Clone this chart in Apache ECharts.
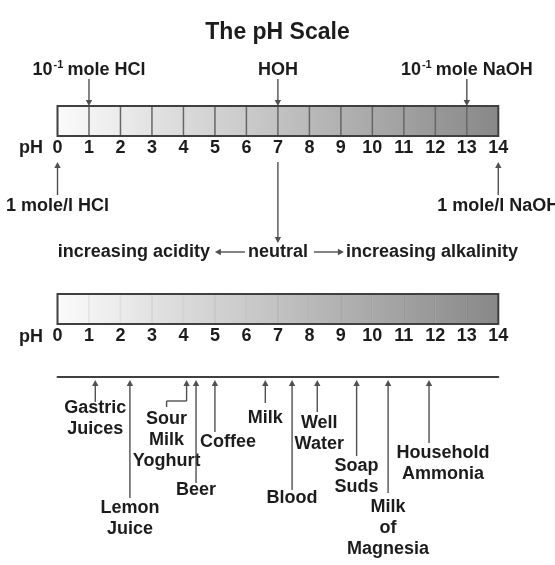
<!DOCTYPE html>
<html>
<head>
<meta charset="utf-8">
<script src="https://cdn.jsdelivr.net/npm/echarts@6/dist/echarts.min.js"></script>
<style>
html, body { margin: 0; padding: 0; background: #fff; }
#main { width: 555px; height: 565px; }
</style>
</head>
<body>
<div id="main"></div>
<script>
// pH scale ticks
var phTicks = [0, 1, 2, 3, 4, 5, 6, 7, 8, 9, 10, 11, 12, 13, 14];

// marks above the first scale
var topNames = ['10{s|-1}mole HCl', 'HOH', '10{s|-1}mole NaOH'];
var topPH = [1, 7, 13];

// marks below the first scale
var endNames = ['1 mole/l HCl', '1 mole/l NaOH'];
var endPH = [0, 14];

var neutralPH = 7;
var trendNames = ['increasing acidity', 'neutral', 'increasing alkalinity'];

// everyday substances on the second scale
var productNames = ['Gastric\nJuices', 'Lemon\nJuice', 'Sour\nMilk\nYoghurt', 'Beer', 'Coffee', 'Milk',
    'Blood', 'Well\nWater', 'Soap\nSuds', 'Milk\nof\nMagnesia', 'Household\nAmmonia'];
var productPH = [1.2, 2.3, 4.1, 4.4, 5.0, 6.6, 7.45, 8.25, 9.5, 10.5, 11.8];

// label layout (px below the base line), not data
var lineEnd = [25, 121, 24, 106, 55, 26, 113, 35, 79, 116, 66];
var textDy = [31, 131, 42, 113, 65, 41, 121, 46, 89, 130, 76];
var textDx = [0, 0, -20, 0, 13, 0, 0, 2, 0, 0, 14];
var elbow = [0, 0, -20, 0, 0, 0, 0, 0, 0, 0, 0];

var INK = '#1c1c1c';
var LINE = '#505050';
var FAMILY = '"Liberation Sans", Arial, Helvetica, sans-serif';
var FONT = 'bold 18px ' + FAMILY;
var phMax = phTicks[phTicks.length - 1];

function shade(t) {
    var c = Math.round(251 - t * (251 - 136));
    return 'rgb(' + c + ',' + c + ',' + c + ')';
}

function head(x, y, dir) {
    var s = 6, w = 3.2, pts;
    if (dir === 'down') pts = [[x - w, y - s], [x + w, y - s], [x, y]];
    else if (dir === 'up') pts = [[x - w, y + s], [x + w, y + s], [x, y]];
    else if (dir === 'left') pts = [[x + s, y - w], [x + s, y + w], [x, y]];
    else pts = [[x - s, y - w], [x - s, y + w], [x, y]];
    return {type: 'polygon', shape: {points: pts}, style: {fill: LINE}};
}

function seg(x1, y1, x2, y2) {
    return {type: 'line', shape: {x1: x1, y1: y1, x2: x2, y2: y2}, style: {stroke: LINE, lineWidth: 1.4}};
}

function txt(x, y, t, align, vAlign) {
    return {
        type: 'text', x: x, y: y,
        style: {
            text: t, font: FONT, fill: INK, align: align || 'center', verticalAlign: vAlign || 'middle',
            lineHeight: 21,
            rich: {s: {fontSize: 11, fontWeight: 'bold', fontFamily: FAMILY, fill: INK, verticalAlign: 'top', padding: [0, 4, 5, 1]}}
        }
    };
}

function phAxis(g) {
    return {
        gridIndex: g, type: 'value', min: 0, max: phMax, interval: 1,
        axisLine: {show: false, onZero: false},
        axisTick: {show: false},
        splitLine: {show: false},
        axisLabel: {show: true, margin: 3, color: INK, fontSize: 18, fontWeight: 'bold', fontFamily: FAMILY}
    };
}

// the gradient bar, cell by cell
function cellSeries(g, divider) {
    return {
        type: 'custom', xAxisIndex: g, yAxisIndex: g, silent: true, animation: false,
        data: phTicks.slice(0, -1).map(function (v) { return [v, 0]; }),
        renderItem: function (params, api) {
            var v = api.value(0);
            var a = api.coord([v, 1]), b = api.coord([v + 1, 0]);
            var kids = [{
                type: 'rect',
                shape: {x: a[0], y: a[1], width: b[0] - a[0], height: b[1] - a[1]},
                style: {
                    fill: new echarts.graphic.LinearGradient(0, 0, 1, 0, [
                        {offset: 0, color: shade(v / phMax)},
                        {offset: 1, color: shade((v + 1) / phMax)}
                    ])
                }
            }];
            if (v > 0) {
                kids.push({type: 'line', shape: {x1: a[0], y1: a[1], x2: a[0], y2: b[1]},
                    style: {stroke: divider, lineWidth: 1.5}});
            }
            return {type: 'group', children: kids};
        }
    };
}

function frameSeries(g) {
    return {
        type: 'custom', xAxisIndex: g, yAxisIndex: g, silent: true, animation: false, z: 3,
        data: [[0, 0]],
        renderItem: function (params, api) {
            var a = api.coord([0, 1]), b = api.coord([phMax, 0]);
            return {type: 'rect', shape: {x: a[0], y: a[1], width: b[0] - a[0], height: b[1] - a[1]},
                style: {fill: 'none', stroke: '#404040', lineWidth: 2}};
        }
    };
}

var myChart = echarts.init(document.getElementById('main'));
var option = {
    backgroundColor: '#fff',
    animation: false,
    title: {
        text: 'The pH Scale', left: 'center', top: 16,
        textStyle: {fontSize: 23, fontWeight: 'bold', color: INK, fontFamily: FAMILY}
    },
    graphic: [
        {type: 'text', left: 19, top: 139, style: {text: 'pH', font: FONT, fill: INK}},
        {type: 'text', left: 19, top: 328, style: {text: 'pH', font: FONT, fill: INK}}
    ],
    grid: [
        {left: 57.5, right: 56.7, top: 106, height: 30},
        {left: 57.5, right: 56.7, top: 294, height: 30},
        {left: 57.5, right: 56.7, top: 377, height: 180}
    ],
    xAxis: [
        phAxis(0),
        phAxis(1),
        {
            gridIndex: 2, type: 'value', min: 0, max: phMax, position: 'top',
            axisLine: {show: true, onZero: false, lineStyle: {color: '#404040', width: 2}},
            axisTick: {show: false}, axisLabel: {show: false}, splitLine: {show: false}
        }
    ],
    yAxis: [0, 1, 2].map(function (g) {
        return {gridIndex: g, type: 'value', min: 0, max: 1, show: false};
    }),
    series: [
        cellSeries(0, '#666'),
        frameSeries(0),
        cellSeries(1, 'rgba(0,0,0,0.07)'),
        frameSeries(1),
        {   // arrows pointing down into the first scale
            type: 'custom', xAxisIndex: 0, yAxisIndex: 0, silent: true,
            data: topPH.map(function (p, i) { return [p, 1, i]; }),
            renderItem: function (params, api) {
                var a = api.coord([api.value(0), 1]);
                var x = a[0], y = a[1];
                return {type: 'group', children: [
                    seg(x, y - 27, x, y - 5), head(x, y, 'down'),
                    txt(x, y - 36, topNames[api.value(2)])
                ]};
            }
        },
        {   // 1 mole/l arrows below the first scale
            type: 'custom', xAxisIndex: 0, yAxisIndex: 0, silent: true,
            data: endPH.map(function (p, i) { return [p, 0, i]; }),
            renderItem: function (params, api) {
                var a = api.coord([api.value(0), 0]);
                var x = a[0], y = a[1];
                return {type: 'group', children: [
                    head(x, y + 26, 'up'), seg(x, y + 31, x, y + 59),
                    txt(x, y + 70, endNames[api.value(2)])
                ]};
            }
        },
        {   // neutral line and the trend row
            type: 'custom', xAxisIndex: 0, yAxisIndex: 0, silent: true,
            data: [[neutralPH, 0]],
            renderItem: function (params, api) {
                var a = api.coord([api.value(0), 0]);
                var x = a[0], y = a[1], r = y + 116;
                return {type: 'group', children: [
                    seg(x, y + 26, x, y + 102), head(x, y + 107, 'down'),
                    txt(x - 68, r, trendNames[0], 'right'),
                    seg(x - 33, r, x - 58, r), head(x - 63, r, 'left'),
                    txt(x, r, trendNames[1]),
                    seg(x + 36, r, x + 61, r), head(x + 66, r, 'right'),
                    txt(x + 68, r, trendNames[2], 'left')
                ]};
            }
        },
        {   // substances below the base line
            type: 'custom', xAxisIndex: 2, yAxisIndex: 2, silent: true,
            data: productPH.map(function (p, i) { return [p, 1, i]; }),
            renderItem: function (params, api) {
                var i = api.value(2);
                var a = api.coord([api.value(0), 1]);
                var x = a[0], y = a[1];
                var kids = [head(x, y + 3, 'up'), seg(x, y + 8, x, y + lineEnd[i])];
                if (elbow[i]) {
                    kids.push(seg(x, y + lineEnd[i], x + elbow[i], y + lineEnd[i]));
                    kids.push(seg(x + elbow[i], y + lineEnd[i], x + elbow[i], y + lineEnd[i] + 6));
                }
                kids.push(txt(x + textDx[i], y + textDy[i] - 10.5, productNames[i], 'center', 'top'));
                return {type: 'group', children: kids};
            }
        }
    ]
};
if (option && typeof option === 'object') {
    myChart.setOption(option, true);
}
</script>
</body>
</html>
